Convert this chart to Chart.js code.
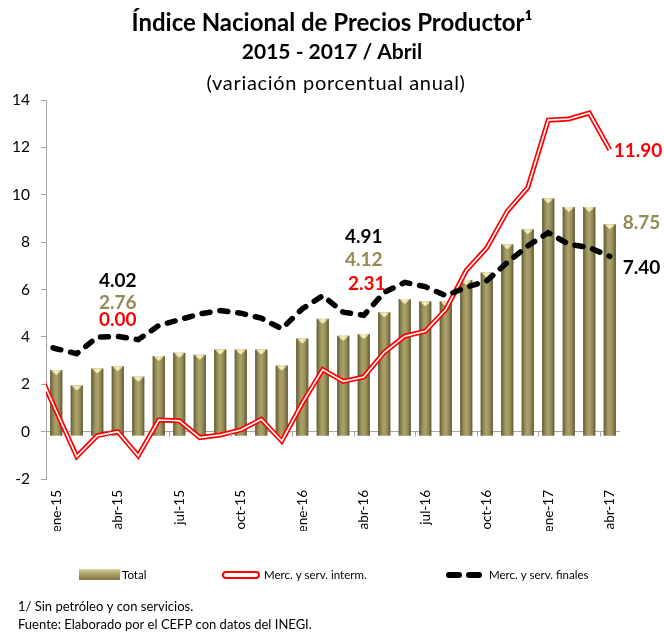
<!DOCTYPE html>
<html>
<head>
<meta charset="utf-8">
<script src="https://cdn.jsdelivr.net/npm/chart.js@4.4.0/dist/chart.umd.min.js"></script>
<style>
  body { margin: 0; background: #fff; }
</style>
</head>
<body>
<canvas id="inpp" width="664" height="633"></canvas>
<script>
const months = [
  'ene-15', 'feb-15', 'mar-15', 'abr-15', 'may-15', 'jun-15', 'jul-15', 'ago-15', 'sep-15', 'oct-15', 'nov-15', 'dic-15',
  'ene-16', 'feb-16', 'mar-16', 'abr-16', 'may-16', 'jun-16', 'jul-16', 'ago-16', 'sep-16', 'oct-16', 'nov-16', 'dic-16',
  'ene-17', 'feb-17', 'mar-17', 'abr-17'
];
const total = [2.6, 1.95, 2.67, 2.76, 2.32, 3.19, 3.33, 3.25, 3.47, 3.47, 3.47, 2.79,
  3.93, 4.76, 4.05, 4.12, 5.04, 5.6, 5.5, 5.5, 6.4, 6.72, 7.91, 8.54, 9.85, 9.48, 9.48, 8.75];
const interm = [0.86, -1.05, -0.17, 0.0, -1.02, 0.49, 0.46, -0.25, -0.14, 0.07, 0.52, -0.4,
  1.2, 2.62, 2.12, 2.31, 3.35, 4.03, 4.24, 5.15, 6.8, 7.75, 9.3, 10.3, 13.15, 13.2, 13.45, 11.9];
const finales = [3.5, 3.29, 3.99, 4.02, 3.88, 4.48, 4.72, 4.97, 5.11, 5.0, 4.79, 4.34,
  5.18, 5.74, 5.04, 4.91, 5.88, 6.3, 6.12, 5.74, 6.09, 6.37, 7.14, 7.84, 8.4, 7.91, 7.77, 7.4];
// dic-14, the line segment entering from the left edge
const prevInterm = 2.8;
const prevFinales = 3.75;

const yTicks = [-2, 0, 2, 4, 6, 8, 10, 12, 14];

const OLIVE = '#948a54';
const RED = '#ff0000';

// value labels: which series, which month, where (value units) and alignment
const callouts = [
  { series: 'finales', i: 3, at: 6.38, align: 'center', dx: 0 },
  { series: 'total', i: 3, at: 5.45, align: 'center', dx: 0 },
  { series: 'interm', i: 3, at: 4.73, align: 'center', dx: 0 },
  { series: 'finales', i: 15, at: 8.22, align: 'center', dx: 0 },
  { series: 'total', i: 15, at: 7.25, align: 'center', dx: 0 },
  { series: 'interm', i: 15, at: 6.25, align: 'center', dx: 3 },
  { series: 'interm', i: 27, at: 11.84, align: 'left', dx: 4 },
  { series: 'total', i: 27, at: 8.81, align: 'left', dx: 13 },
  { series: 'finales', i: 27, at: 6.92, align: 'left', dx: 13 }
];
const seriesData = { total: total, interm: interm, finales: finales };
const seriesColor = { total: OLIVE, interm: RED, finales: '#000' };

function linePoints(prev, arr) {
  return [{ x: -1, y: prev }].concat(arr.map((v, i) => ({ x: i, y: v })));
}

const extras = {
  id: 'extras',
  beforeDatasetDraw(chart, args) {
    if (args.index !== 0) return;
    const ctx = chart.ctx;
    // cylinder shading, built from each bar's own geometry
    args.meta.data.forEach(el => {
      const g = ctx.createLinearGradient(el.x - el.width / 2, 0, el.x + el.width / 2, 0);
      g.addColorStop(0, '#5f5930');
      g.addColorStop(0.3, '#9c935d');
      g.addColorStop(0.5, '#aaa16b');
      g.addColorStop(0.75, '#938a56');
      g.addColorStop(1, '#5c562e');
      el.options.backgroundColor = g;
    });
  },
  afterDatasetDraw(chart, args) {
    if (args.index !== 0) return;
    const ctx = chart.ctx;
    ctx.save();
    args.meta.data.forEach(el => {
      const w = el.width, x = el.x, y = el.y;
      const g = ctx.createLinearGradient(x - w / 2, 0, x + w / 2, 0);
      g.addColorStop(0, '#cfc48c');
      g.addColorStop(0.5, '#f6eebe');
      g.addColorStop(1, '#c9be84');
      ctx.fillStyle = g;
      ctx.beginPath();
      ctx.moveTo(x - w / 2 + 1, y);
      ctx.lineTo(x + w / 2 - 1, y);
      ctx.lineTo(x + w / 2 - 3, y + 2.5);
      ctx.lineTo(x, y + 5);
      ctx.lineTo(x - w / 2 + 3, y + 2.5);
      ctx.closePath();
      ctx.fill();
    });
    ctx.restore();
  },
  afterDraw(chart) {
    const ctx = chart.ctx;
    const xs = chart.scales.x, ys = chart.scales.y;
    const step = xs.width / months.length;
    const y0 = ys.getPixelForValue(0);
    ctx.save();

    // third heading line
    ctx.fillStyle = '#000';
    ctx.font = '20px Lato';
    ctx.textAlign = 'center';
    ctx.textBaseline = 'middle';
    ctx.letterSpacing = '0.7px';
    ctx.fillText('(variación porcentual anual)', 336, 84);
    ctx.letterSpacing = '0px';

    // small ticks on the zero line
    ctx.strokeStyle = '#a6a6a6';
    ctx.lineWidth = 1;
    for (let i = 3; i < months.length; i += 3) {
      const px = Math.round(xs.getPixelForValue(i) - step / 2) + 0.5;
      ctx.beginPath();
      ctx.moveTo(px, y0);
      ctx.lineTo(px, y0 + 5);
      ctx.stroke();
    }

    // value labels
    ctx.font = 'bold 19px Lato';
    callouts.forEach(c => {
      ctx.fillStyle = seriesColor[c.series];
      ctx.textAlign = c.align;
      const px = xs.getPixelForValue(c.i) + c.dx;
      ctx.fillText(seriesData[c.series][c.i].toFixed(2), px, ys.getPixelForValue(c.at));
    });

    // legend
    const ly = 575;
    const sg = ctx.createLinearGradient(0, ly - 6, 0, ly + 6);
    sg.addColorStop(0, '#d9d09a');
    sg.addColorStop(0.45, '#a69d65');
    sg.addColorStop(1, '#746c3e');
    ctx.fillStyle = sg;
    ctx.fillRect(79, ly - 6, 41, 11);
    ctx.strokeStyle = RED;
    ctx.lineWidth = 2;
    ctx.fillStyle = '#fff';
    ctx.beginPath();
    ctx.roundRect(223, ly - 3, 36, 6, 3);
    ctx.fill();
    ctx.stroke();
    ctx.strokeStyle = '#000';
    ctx.lineWidth = 6;
    ctx.lineCap = 'round';
    ctx.beginPath();
    ctx.moveTo(449, ly); ctx.lineTo(459, ly);
    ctx.moveTo(469, ly); ctx.lineTo(479, ly);
    ctx.stroke();

    ctx.fillStyle = '#000';
    ctx.textAlign = 'left';
    ctx.font = '11.5px Lato';
    ctx.fillText('Total', 122, ly);
    ctx.fillText('Merc. y serv. interm.', 264, ly);
    ctx.fillText('Merc. y serv. finales', 489, ly);

    // footnotes
    ctx.font = '13px Lato';
    ctx.fillText('1/ Sin petróleo y con servicios.', 18, 607);
    ctx.fillText('Fuente: Elaborado por el CEFP con datos del INEGI.', 18, 625);
    ctx.restore();
  }
};

new Chart(document.getElementById('inpp').getContext('2d'), {
  type: 'bar',
  data: {
    labels: months,
    datasets: [
      {
        label: 'Total',
        data: total,
        // scriptable so every bar keeps its own options object
        backgroundColor: () => OLIVE,
        base: -0.17,
        grouped: false,
        categoryPercentage: 1,
        barPercentage: 0.6,
        order: 4
      },
      {
        type: 'line',
        label: 'Merc. y serv. interm.',
        data: linePoints(prevInterm, interm),
        xAxisID: 'xl',
        borderColor: RED,
        borderWidth: 5,
        borderJoinStyle: 'miter',
        pointRadius: 0,
        tension: 0,
        clip: 0,
        order: 3
      },
      {
        type: 'line',
        label: 'interm-inner',
        data: linePoints(prevInterm, interm),
        xAxisID: 'xl',
        borderColor: '#fff',
        borderWidth: 1.6,
        borderJoinStyle: 'miter',
        pointRadius: 0,
        tension: 0,
        clip: 0,
        order: 2
      },
      {
        type: 'line',
        label: 'Merc. y serv. finales',
        data: linePoints(prevFinales, finales),
        xAxisID: 'xl',
        borderColor: '#000',
        borderWidth: 5.5,
        borderDash: [8, 10],
        borderCapStyle: 'round',
        pointRadius: 0,
        tension: 0,
        clip: 0,
        order: 1
      }
    ]
  },
  options: {
    responsive: false,
    animation: false,
    layout: { padding: { left: 0, right: 0, top: 0, bottom: 102 } },
    plugins: {
      legend: { display: false },
      tooltip: { enabled: false },
      title: {
        display: true,
        text: 'Índice Nacional de Precios Productor¹',
        color: '#000',
        font: { family: 'Lato', size: 24, weight: 'bold', lineHeight: 1.2 },
        padding: { top: 9, bottom: 1 }
      },
      subtitle: {
        display: true,
        text: '2015 - 2017 / Abril',
        color: '#000',
        font: { family: 'Lato', size: 21, weight: 'bold', lineHeight: 1.2 },
        padding: { top: 1, bottom: 35 }
      }
    },
    scales: {
      x: {
        offset: true,
        grid: { display: false, drawTicks: false },
        border: { display: false },
        ticks: {
          autoSkip: false,
          minRotation: 90,
          maxRotation: 90,
          padding: 11,
          color: '#000',
          font: { family: 'Lato', size: 13.5 },
          callback: function (v, i) { return i % 3 === 0 ? months[i] : ''; }
        },
        afterFit: s => { s.height = 52; }
      },
      xl: {
        type: 'linear',
        display: false,
        offset: false,
        grid: { offset: false },
        min: -0.5,
        max: months.length - 0.5
      },
      y: {
        min: -2,
        max: 14,
        afterBuildTicks: s => { s.ticks = yTicks.map(v => ({ value: v })); },
        border: { display: true, color: '#a6a6a6' },
        grid: {
          drawOnChartArea: true,
          color: c => (c.tick && c.tick.value === 0 ? '#a6a6a6' : 'rgba(0,0,0,0)'),
          tickColor: '#a6a6a6',
          tickLength: 5
        },
        ticks: {
          padding: 11,
          color: '#000',
          font: { family: 'Lato', size: 15.5 }
        },
        afterFit: s => { s.width = 46; }
      },
      // empty strip on the right that holds the end-of-series labels
      yr: {
        position: 'right',
        display: true,
        grid: { display: false, drawTicks: false },
        border: { display: false },
        ticks: { display: false },
        afterFit: s => { s.width = 44; }
      }
    }
  },
  plugins: [extras]
});
</script>
</body>
</html>
